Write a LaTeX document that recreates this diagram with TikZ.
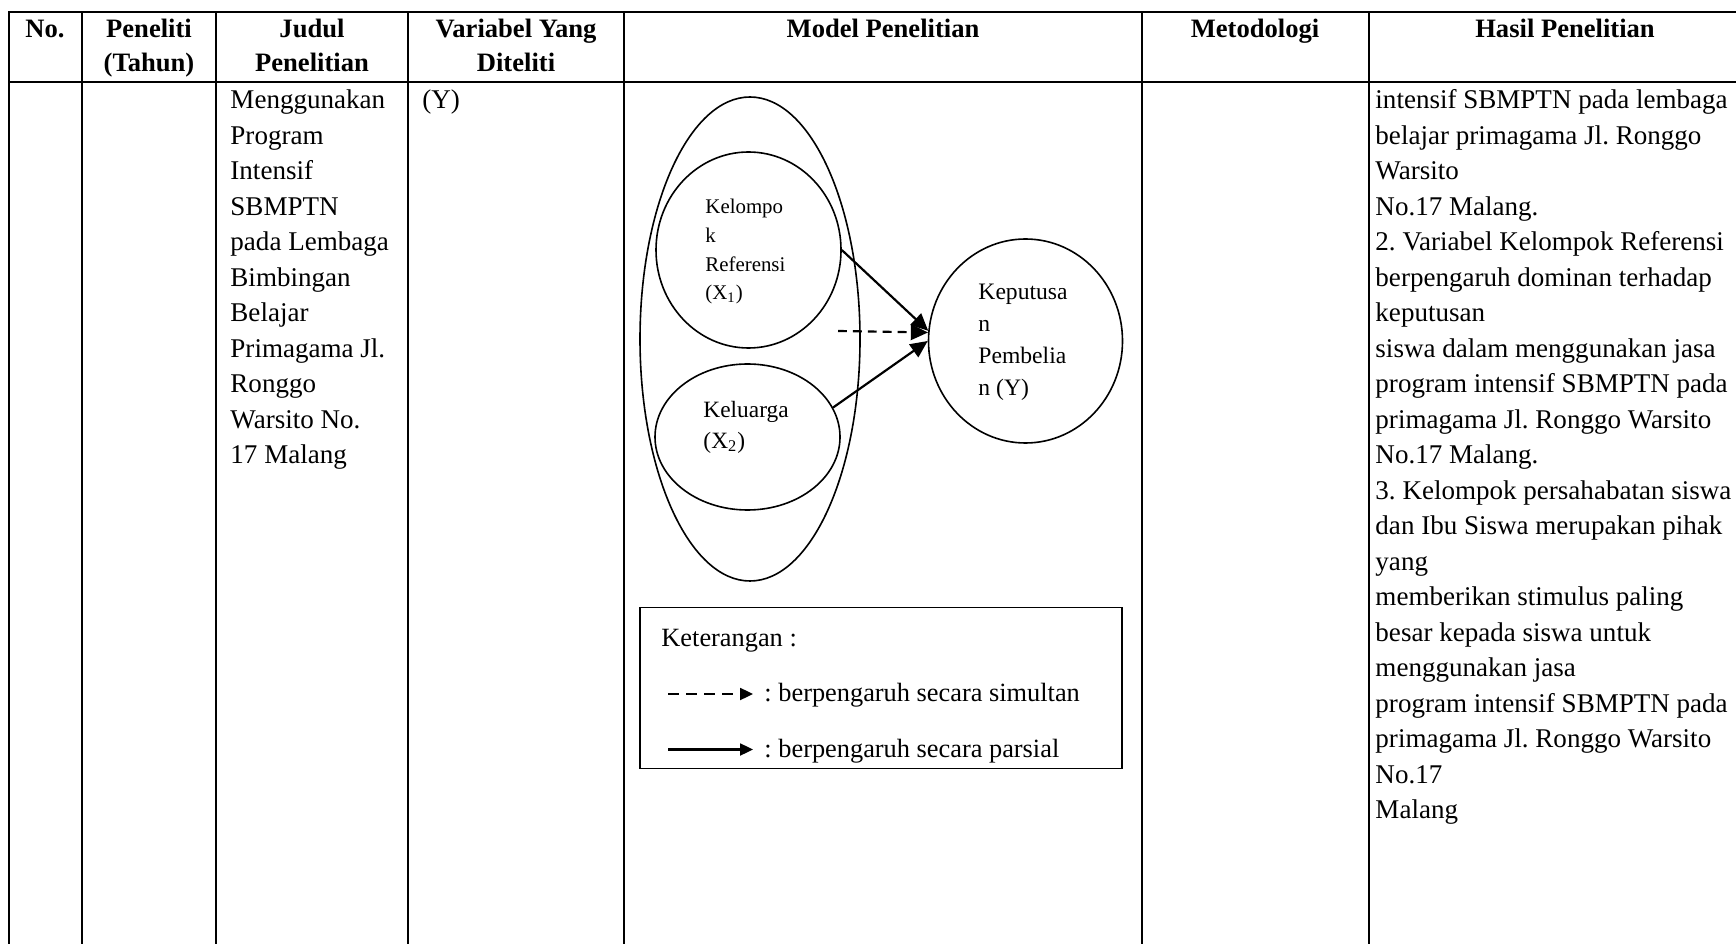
\documentclass[tikz,border=0pt]{standalone}
\usepackage{fontspec}
\setmainfont{Liberation Serif}
\usetikzlibrary{shapes.geometric,arrows.meta,fit}
\frenchspacing

% one drawing unit = one pixel of the page
\def\pxu{0.4364pt}
\newcommand\linesL[1]{\begin{tabular}[t]{@{}l@{}}#1\end{tabular}}
\newcommand\linesC[1]{\begin{tabular}[t]{@{}c@{}}#1\end{tabular}}

\tikzset{
  rule/.style={line width=0.87pt, line cap=rect},
  bubble/.style={ellipse, draw, line width=0.7pt, inner sep=0pt},
  head/.style={anchor=base, inner sep=0pt, font=\fontsize{11.6}{14.6}\selectfont\bfseries},
  cellL/.style={anchor=base west, inner sep=0pt, font=\fontsize{11.8}{15.49}\selectfont},
  bubtext/.style={anchor=base west, inner sep=0pt},
  influence/.style={line width=0.95pt, -{Triangle[length=7.5pt,width=6.8pt]}},
  simul/.style={influence, dash pattern=on 3.9pt off 2.6pt},
  keytext/.style={anchor=base west, inner sep=0pt, font=\fontsize{11.5}{14}\selectfont},
  keyarrow/.style={line width=0.9pt, -{Triangle[length=5.6pt,width=5.2pt]}},
}

\begin{document}
\begin{tikzpicture}[x=\pxu, y=-\pxu]
\useasboundingbox (0,0) rectangle (1736,944);
\clip (0,0) rectangle (1736,944);

% table rules
\draw[rule] (9,11.7) -- (1745,11.7);
\draw[rule] (9,81.7) -- (1745,81.7);
\foreach \cx in {9,81.7,216,408,624,1141.7,1369}
  \draw[rule] (\cx,11.7) -- (\cx,955);

% header row
\node[head] (hno)  at (45,38)     {No.};
\node[head] (hpen) at (149,38)    {\linesC{Peneliti\\(Tahun)}};
\node[head] (hjud) at (312,38)    {\linesC{Judul\\Penelitian}};
\node[head] (hvar) at (516,38)    {\linesC{Variabel Yang\\Diteliti}};
\node[head] (hmod) at (883,38)    {Model Penelitian};
\node[head] (hmet) at (1255,38)   {Metodologi};
\node[head] (hhas) at (1565,38)   {Hasil Penelitian};

% body cells
\node[cellL] (judul) at (230,109) {\linesL{Menggunakan\\Program\\Intensif\\SBMPTN\\pada Lembaga\\Bimbingan\\Belajar\\Primagama Jl.\\Ronggo\\Warsito No.\\17 Malang}};
\node[cellL] (variabel) at (422,109) {(Y)};
\node[cellL] (hasil) at (1375,109) {\linesL{intensif SBMPTN pada lembaga\\belajar primagama Jl. Ronggo\\Warsito\\No.17 Malang.\\2. Variabel Kelompok Referensi\\berpengaruh dominan terhadap\\keputusan\\siswa dalam menggunakan jasa\\program intensif SBMPTN pada\\primagama Jl. Ronggo Warsito\\No.17 Malang.\\3. Kelompok persahabatan siswa\\dan Ibu Siswa merupakan pihak\\yang\\memberikan stimulus paling\\besar kepada siswa untuk\\menggunakan jasa\\program intensif SBMPTN pada\\primagama Jl. Ronggo Warsito\\No.17\\Malang}};

% research model
\node[bubble, minimum width=220*\pxu, minimum height=484*\pxu] (group) at (750,339) {};
\node[bubble, minimum width=185*\pxu, minimum height=196*\pxu] (kref) at (748.5,250) {};
\node[bubble, minimum width=185*\pxu, minimum height=146*\pxu] (kel) at (747.5,437) {};
\node[bubble, minimum width=194*\pxu, minimum height=204*\pxu] (kep) at (1025.5,341) {};

\node[bubtext, font=\fontsize{9.1}{12.48}\selectfont] (kreftext) at (705,214)
  {\linesL{Kelompo\\k\\Referensi\\(X\textsubscript{1})}};
\node[bubtext, font=\fontsize{10.2}{13.1}\selectfont] (keltext) at (703,418)
  {\linesL{Keluarga\\(X\textsubscript{2})}};
\node[bubtext, font=\fontsize{10.3}{13.96}\selectfont] (keptext) at (978,300)
  {\linesL{Keputusa\\n\\Pembelia\\n (Y)}};

\coordinate (dstart) at (838,331);
\draw[influence] (kref.east) -- (kep.174);
\draw[influence] (kel.19) -- (kep.180);
\draw[simul] (dstart) -- (kep.175);

% legend
\node[draw, line width=0.75pt, inner sep=0pt, fit={(640,607.5) (1122,768.5)}] (legend) {};
\node[keytext] (keyhead) at (661,646) {Keterangan :};
\coordinate (k1s) at (668,694);
\coordinate (k1e) at (753,694);
\draw[keyarrow, dash pattern=on 4.8pt off 3.1pt] (k1s) -- (k1e);
\node[keytext] (k1txt) at (764,701) {: berpengaruh secara simultan};
\coordinate (k2s) at (668,749.5);
\coordinate (k2e) at (753,749.5);
\draw[keyarrow] (k2s) -- (k2e);
\node[keytext] (k2txt) at (764,757) {: berpengaruh secara parsial};
\end{tikzpicture}
\end{document}
